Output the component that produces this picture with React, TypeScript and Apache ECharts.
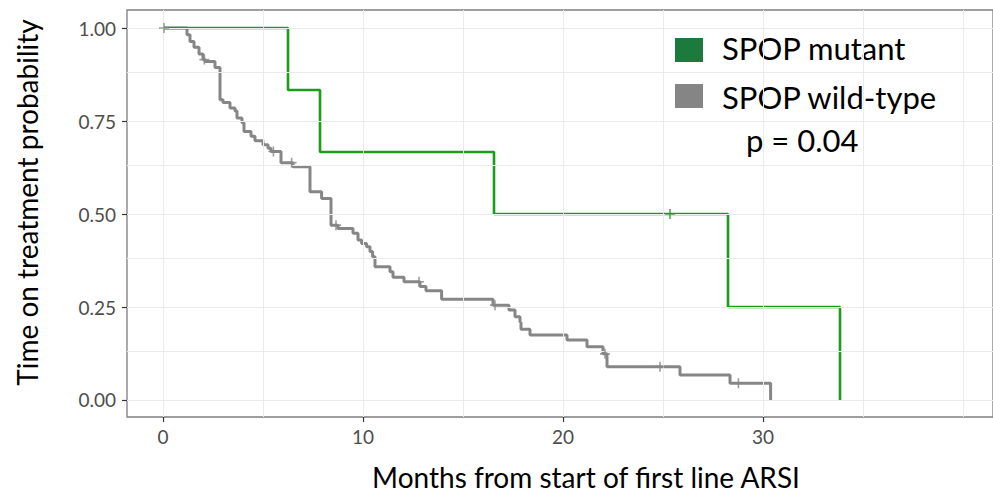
import React, { useEffect, useRef } from "react";
import * as echarts from "echarts";

// Axis ticks and grid positions
const xTickValues = [0, 10, 20, 30];
const yTickValues = [0, 0.25, 0.5, 0.75, 1];
const xGridValues = [0, 5, 10, 15, 20, 25, 30, 35, 40];
const yGridValues = [0, 0.125, 0.25, 0.375, 0.5, 0.625, 0.75, 0.875, 1];

// SPOP mutant: Kaplan-Meier steps (time in months, probability after the step)
const mutantTimes = [0, 6.25, 7.85, 16.55, 28.25, 33.85];
const mutantSurv = [1, 0.8333, 0.6667, 0.5, 0.25, 0];
const mutantCensorTimes = [25.35];
const mutantCensorSurv = [0.5];

// SPOP wild-type: Kaplan-Meier steps
const wildTimes = [
  0, 1.2, 1.35, 1.55, 1.8, 2.0, 2.1, 2.6, 2.85, 3.0, 3.35, 3.6, 3.7, 3.95, 4.05,
  4.4, 4.6, 5.0, 5.25, 5.4, 5.9, 6.5, 7.35, 7.93, 8.4, 8.75, 9.5, 9.75, 9.93,
  10.18, 10.35, 10.48, 10.6, 11.35, 11.5, 12.05, 12.85, 13.15, 13.93, 16.5,
  17.3, 17.6, 17.85, 17.9, 18.35, 20.2, 21.2, 22.0, 22.2, 25.85, 28.35, 30.38,
];
const wildSurv = [
  1, 0.982, 0.964, 0.948, 0.93, 0.915, 0.91, 0.894, 0.807, 0.8, 0.785, 0.777,
  0.758, 0.745, 0.722, 0.709, 0.697, 0.686, 0.677, 0.668, 0.638, 0.627, 0.56,
  0.542, 0.47, 0.461, 0.448, 0.43, 0.421, 0.412, 0.399, 0.385, 0.358, 0.345,
  0.33, 0.318, 0.305, 0.294, 0.271, 0.255, 0.242, 0.224, 0.21, 0.19, 0.175,
  0.161, 0.143, 0.124, 0.0896, 0.067, 0.045, 0,
];
const wildCensorTimes = [0.05, 2.07, 5.52, 6.43, 8.65, 12.8, 16.6, 22.1, 24.85, 28.77];
const wildCensorSurv = [1, 0.915, 0.668, 0.638, 0.47, 0.318, 0.255, 0.124, 0.0896, 0.045];

const legendLabels = ["SPOP mutant", "SPOP wild-type"];
const pValueText = "p = 0.04";

const MUTANT_LINE = "#1a9e1a";
const WILD_LINE = "#868686";
const MUTANT_KEY = "#1c7a3d";
const WILD_KEY = "#858585";
const FONT = "Lato";

const PLUS = "path://M4.2,0H5.8V4.2H10V5.8H5.8V10H4.2V5.8H0V4.2H4.2Z";

const pairs = (xs: number[], ys: number[]) => xs.map((x, i) => [x, ys[i]]);

export default function App() {
  const ref = useRef<HTMLDivElement>(null);

  useEffect(() => {
    if (!ref.current) return;
    const chart = echarts.init(ref.current, undefined, { renderer: "svg" });

    const gridMarks = [
      ...xGridValues.map((v) => ({ xAxis: v })),
      ...yGridValues.map((v) => ({ yAxis: v })),
    ];

    chart.setOption({
      animation: false,
      backgroundColor: "#ffffff",
      textStyle: { fontFamily: FONT },
      grid: {
        left: 127,
        top: 10,
        bottom: 81,
        right: 0,
        show: true,
        borderColor: "#7f7f7f",
        borderWidth: 1.3,
        backgroundColor: "transparent",
      },
      xAxis: {
        type: "value",
        min: -1.8,
        max: 41.5,
        name: "Months from start of first line ARSI",
        nameLocation: "middle",
        nameGap: 46,
        nameTextStyle: { fontFamily: FONT, fontSize: 28, color: "#000", padding: [0, 0, 0, 52] },
        axisLine: { show: false, onZero: false },
        splitLine: { show: false },
        axisTick: {
          show: true,
          customValues: xTickValues,
          length: 5,
          lineStyle: { color: "#333", width: 1.2 },
        },
        axisLabel: {
          customValues: xTickValues,
          margin: 10,
          fontFamily: FONT,
          fontSize: 19,
          color: "#4d4d4d",
          formatter: (v: number) => String(v),
        },
      },
      yAxis: {
        type: "value",
        min: -0.0457,
        max: 1.0484,
        name: "Time on treatment probability",
        nameLocation: "middle",
        nameRotate: 90,
        nameGap: 86,
        nameTextStyle: { fontFamily: FONT, fontSize: 28, color: "#000", padding: [0, 0, 0, 22] },
        axisLine: { show: false, onZero: false },
        splitLine: { show: false },
        axisTick: {
          show: true,
          customValues: yTickValues,
          length: 5,
          lineStyle: { color: "#333", width: 1.2 },
        },
        axisLabel: {
          customValues: yTickValues,
          margin: 11,
          fontFamily: FONT,
          fontSize: 19,
          color: "#4d4d4d",
          formatter: (v: number) => v.toFixed(2),
        },
      },
      series: [
        {
          name: "grid",
          type: "line",
          data: [[0, 1]],
          symbol: "none",
          lineStyle: { opacity: 0 },
          silent: true,
          z: 1,
          markLine: {
            silent: true,
            symbol: "none",
            label: { show: false },
            lineStyle: { color: "#ebebeb", width: 1, type: "solid" },
            emphasis: { disabled: true },
            data: gridMarks,
          },
        },
        {
          name: legendLabels[1],
          type: "line",
          step: "end",
          data: pairs(wildTimes, wildSurv),
          symbol: "none",
          lineStyle: { color: WILD_LINE, width: 3 },
          z: 3,
        },
        {
          name: legendLabels[0],
          type: "line",
          step: "end",
          data: pairs(mutantTimes, mutantSurv),
          symbol: "none",
          lineStyle: { color: MUTANT_LINE, width: 2.6 },
          z: 4,
        },
        {
          name: "wild censored",
          type: "scatter",
          data: pairs(wildCensorTimes, wildCensorSurv),
          symbol: PLUS,
          symbolSize: 10,
          itemStyle: { color: WILD_LINE },
          z: 5,
        },
        {
          name: "mutant censored",
          type: "scatter",
          data: pairs(mutantCensorTimes, mutantCensorSurv),
          symbol: PLUS,
          symbolSize: 10,
          itemStyle: { color: MUTANT_LINE },
          z: 5,
        },
      ],
      graphic: [
        { type: "rect", shape: { x: 675, y: 38, width: 28, height: 24 }, style: { fill: MUTANT_KEY } },
        { type: "rect", shape: { x: 675, y: 84, width: 28, height: 24 }, style: { fill: WILD_KEY } },
        {
          type: "text",
          x: 722,
          y: 48,
          style: { text: legendLabels[0], fontFamily: FONT, fontSize: 31, fill: "#000", verticalAlign: "middle" },
        },
        {
          type: "text",
          x: 722,
          y: 97,
          style: { text: legendLabels[1], fontFamily: FONT, fontSize: 31, fill: "#000", verticalAlign: "middle" },
        },
        {
          type: "text",
          x: 746,
          y: 140,
          style: { text: pValueText, fontFamily: FONT, fontSize: 31, fill: "#000", verticalAlign: "middle" },
        },
      ],
    });

    return () => chart.dispose();
  }, []);

  return (
    <div
      ref={ref}
      style={{ position: "absolute", left: 0, top: 0, width: 993, height: 498 }}
    />
  );
}
